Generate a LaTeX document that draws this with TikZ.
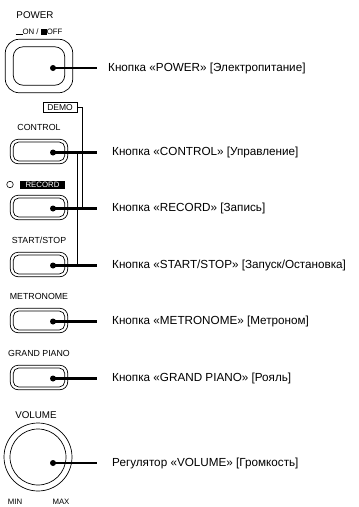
\documentclass[tikz,border=0pt]{standalone}
\usepackage{fontspec}
\setmainfont{Liberation Sans}
\usetikzlibrary{positioning}

\begin{document}
\begin{tikzpicture}[
    x=1pt, y=-1pt,
    every node/.style={inner sep=0pt, font=\fontsize{8.8}{9}\selectfont},
    button/.style={draw, line width=0.7pt, rounded corners=8pt, minimum width=57.5pt, minimum height=24.5pt},
    buttonface/.style={draw, line width=0.7pt, rounded corners=5.5pt, minimum width=51.5pt, minimum height=19pt},
    title/.style={above=8pt of #1},
    dot/.style={circle, fill, minimum size=6pt},
    lead/.style={line width=2.5pt},
    link/.style={line width=0.6pt},
    desc/.style={font=\fontsize{11.7}{13}\selectfont}
]
  \useasboundingbox (0,0) rectangle (359,507);
  \coordinate (edge) at (97,0);

  % Power switch
  \node (powertitle) at (35,15) [font=\fontsize{9.8}{10}\selectfont] {POWER};
  \node (onoff) at (39,32) [font=\fontsize{7.8}{8}\selectfont] {\rule{7pt}{1.4pt}ON / \rule{6pt}{6pt}OFF};
  \node (power) at (39,66) [button, rounded corners=14pt, minimum width=67.5pt, minimum height=53.5pt] {};
  \node (powerface) at (power.center) [buttonface, rounded corners=10pt, minimum width=51.5pt, minimum height=38.5pt] {};
  \node (powerdot) [dot] at ([xshift=14pt,yshift=-2pt]power.center) {};
  \draw[lead] (powerdot.center) -- (powerdot.center -| edge) coordinate (powerend);
  \node (powerdesc) [desc, right=11pt of powerend] {Кнопка «POWER» [Электропитание]};

  % Buttons
  \node (demo) at (60,107.5) [draw, link, minimum width=34pt, minimum height=9.5pt, font=\fontsize{8.5}{9}\selectfont] {DEMO};

  \node (control) at (39,151.5) [button] {};
  \node (controltitle) [title=control] {CONTROL};

  \node (recordlamp) at (10,184.5) [draw, link, circle, minimum size=6.5pt] {};
  \node (recordtitle) at (42.5,184.5) [fill=black, text=white, minimum width=45pt, minimum height=8pt, font=\fontsize{7.8}{8}\selectfont] {RECORD};
  \node (record) at (39,207.5) [button] {};

  \node (startstop) at (39,264.5) [button] {};
  \node (startstoptitle) [title=startstop] {START/STOP};

  \node (metronome) at (39,320.5) [button] {};
  \node (metronometitle) [title=metronome] {METRONOME};

  \node (grandpiano) at (39,377.5) [button] {};
  \node (grandpianotitle) [title=grandpiano] {GRAND PIANO};

  \foreach \b/\t in {control/{Кнопка «CONTROL» [Управление]},
                     record/{Кнопка «RECORD» [Запись]},
                     startstop/{Кнопка «START/STOP» [Запуск/Остановка]},
                     metronome/{Кнопка «METRONOME» [Метроном]},
                     grandpiano/{Кнопка «GRAND PIANO» [Рояль]}} {
    \node (\b face) at (\b.center) [buttonface] {};
    \node (\b dot) [dot] at ([xshift=14pt,yshift=-1pt]\b.center) {};
    \draw[lead] (\b dot.center) -- (\b dot.center -| edge) coordinate (\b end);
    \node (\b desc) [desc, right=15pt of \b end] {\t};
  }

  % DEMO = CONTROL + RECORD, CONTROL + START/STOP
  \coordinate (demoleg) at (82,0);
  \coordinate (startleg) at (77,0);
  \draw[link] (demo.east) -| (demoleg |- recorddot);
  \draw[link] (startleg |- controldot) -- (startleg |- startstopdot);

  % Volume knob
  \node (volume) at (38,457) [draw, circle, line width=0.7pt, minimum size=68pt] {};
  \node (volumeface) at (volume.center) [draw, circle, line width=0.7pt, minimum size=56pt] {};
  \node (volumetitle) at (36,415) [font=\fontsize{9.8}{10}\selectfont] {VOLUME};
  \node (volmin) at (15,502) [font=\fontsize{7.8}{8}\selectfont] {MIN};
  \node (volmax) at (61,502) [font=\fontsize{7.8}{8}\selectfont] {MAX};
  \node (volumedot) [dot] at (53,463) {};
  \draw[lead] (volumedot.center) -- (volumedot.center -| edge) coordinate (volumeend);
  \node (volumedesc) [desc, right=15pt of volumeend] {Регулятор «VOLUME» [Громкость]};
\end{tikzpicture}
\end{document}
